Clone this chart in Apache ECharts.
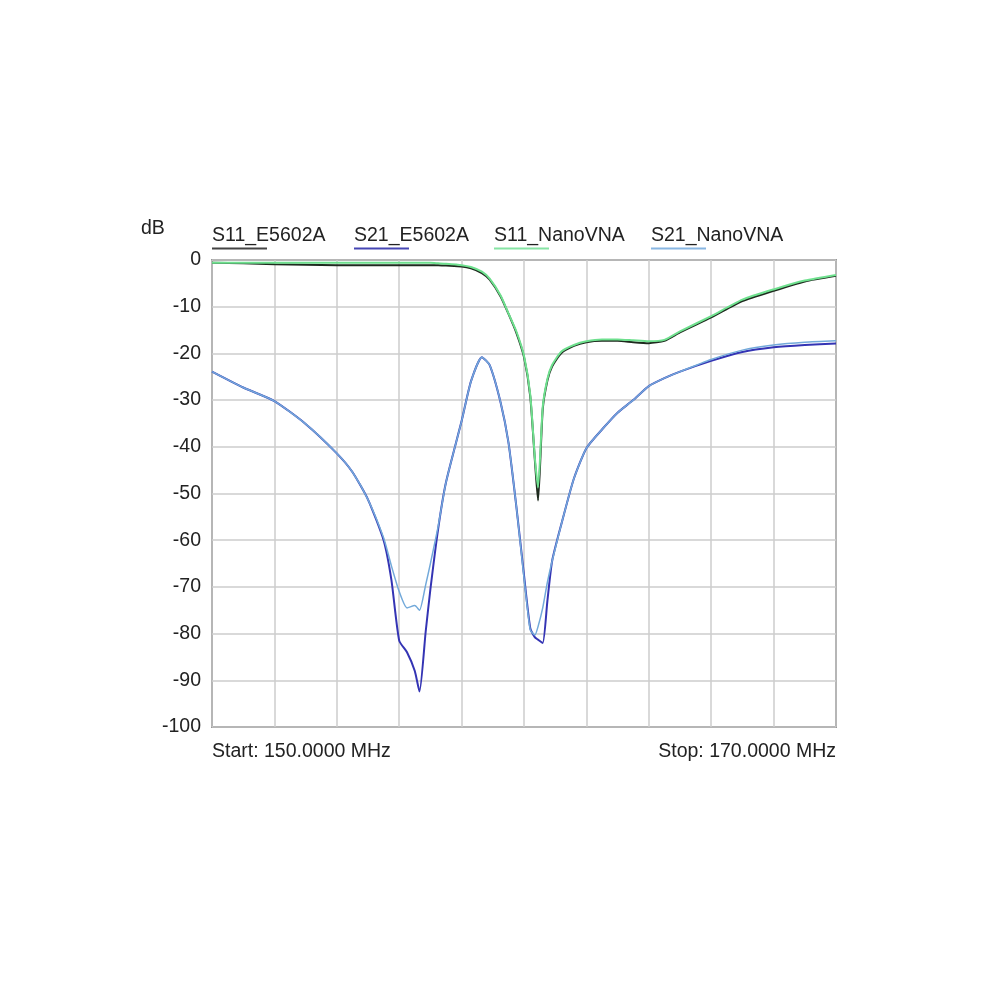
<!DOCTYPE html>
<html>
<head>
<meta charset="utf-8">
<script src="https://cdn.jsdelivr.net/npm/echarts@6/dist/echarts.min.js"></script>
<style>
  html, body { margin: 0; padding: 0; background: #fff; }
  #chart { width: 990px; height: 990px; }
</style>
</head>
<body>
<div id="chart"></div>
<script>
// frequency points, MHz
const freq = [150, 151, 152, 153, 154, 154.5, 155, 155.5, 155.75, 156, 156.25, 156.5, 156.65, 156.85,
  157, 157.25, 157.5, 158, 158.3, 158.65, 158.9, 159.25, 159.5, 159.75, 160, 160.2, 160.35, 160.45,
  160.6, 160.75, 160.9, 161.2, 161.6, 162, 162.5, 163, 163.5, 164, 164.5, 165, 166, 167, 168, 169, 170];

const s11E5602A = [-0.6, -0.7, -0.9, -1.0, -1.1, -1.1, -1.1, -1.1, -1.1, -1.1, -1.1, -1.1, -1.1, -1.1,
  -1.1, -1.1, -1.2, -1.4, -1.8, -2.8, -4.2, -7.8, -11.5, -15.5, -20.8, -29.2, -43.0, -51.5,
  -32.0, -25.8, -22.8, -19.9, -18.4, -17.6, -17.3, -17.3, -17.6, -17.8, -17.3, -15.5, -12.3, -8.8, -6.6, -4.6, -3.4];

const s21E5602A = [-23.9, -27.3, -30.2, -35.1, -41.4, -45.4, -51.3, -60.0, -68.5, -81.5, -84.0, -88.0, -92.4, -79.5,
  -70.5, -57.5, -47.6, -34.5, -26.0, -20.8, -22.5, -30.5, -39.0, -52.5, -67.5, -78.8, -80.8, -81.3,
  -82.0, -73.0, -64.5, -56.5, -46.8, -40.3, -36.3, -32.7, -30.0, -27.0, -25.3, -23.9, -21.6, -19.7, -18.7, -18.2, -17.9];

const s11NanoVNA = [-0.6, -0.6, -0.6, -0.6, -0.6, -0.6, -0.6, -0.6, -0.6, -0.6, -0.6, -0.6, -0.6, -0.6,
  -0.6, -0.7, -0.8, -1.1, -1.5, -2.5, -4.0, -7.6, -11.4, -15.2, -20.5, -28.8, -42.5, -48.7,
  -31.5, -25.5, -22.5, -19.6, -18.2, -17.4, -17.0, -17.0, -17.2, -17.4, -17.1, -15.3, -12.0, -8.5, -6.3, -4.4, -3.2];

const s21NanoVNA = [-23.9, -27.3, -30.2, -35.1, -41.4, -45.4, -51.3, -59.5, -65.5, -71.0, -74.5, -74.0, -75.0, -69.5,
  -65.0, -57.0, -47.6, -34.5, -26.0, -20.8, -22.5, -30.5, -39.0, -52.5, -68.0, -79.2, -80.3, -78.5,
  -74.5, -69.0, -64.5, -56.5, -46.8, -40.3, -36.3, -32.7, -30.0, -27.0, -25.3, -23.9, -21.3, -19.3, -18.2, -17.6, -17.3];

const legendNames = ['S11_E5602A', 'S21_E5602A', 'S11_NanoVNA', 'S21_NanoVNA'];
const legendX = [212, 354, 494, 651];
const lineColors = ['#1e2a1e', '#3434b4', '#6ee08e', '#72a9da'];
const underlineColors = ['#444444', '#4646b4', '#86e4a4', '#88b6e2'];

const font = '"Liberation Sans", Arial, sans-serif';
const fs = 19.5;

const pairs = (ys) => freq.map((f, i) => [f, ys[i]]);

const chart = echarts.init(document.getElementById('chart'));

const graphic = [
  { type: 'text', left: 141, top: 219, style: { text: 'dB', font: fs + 'px ' + font, fill: '#222' } },
  { type: 'text', left: 212, top: 742, style: { text: 'Start: 150.0000 MHz', font: fs + 'px ' + font, fill: '#222' } },
  { type: 'text', right: 154, top: 742, style: { text: 'Stop: 170.0000 MHz', font: fs + 'px ' + font, fill: '#222' } }
];
legendNames.forEach((name, i) => {
  graphic.push({ type: 'text', left: legendX[i], top: 226, style: { text: name, font: fs + 'px ' + font, fill: '#222' } });
  graphic.push({ type: 'line', shape: { x1: legendX[i], y1: 248.5, x2: legendX[i] + 55, y2: 248.5 },
    style: { stroke: underlineColors[i], lineWidth: 2 } });
});

function line(name, ys, color, width, z) {
  return {
    name: name, type: 'line', showSymbol: false, z: z,
    smooth: 0.2,
    lineStyle: { color: color, width: width },
    data: pairs(ys)
  };
}

chart.setOption({
  backgroundColor: '#ffffff',
  animation: false,
  grid: {
    left: 212,
    right: 154,
    top: 260,
    bottom: 263,
    show: true,
    borderColor: '#4a4a4a',
    borderWidth: 1.5
  },
  xAxis: {
    type: 'value',
    min: 150,
    max: 170,
    interval: 2,
    axisLine: { show: false },
    axisTick: { show: false },
    axisLabel: { show: false },
    splitLine: { lineStyle: { color: '#cccccc', width: 1.5 } }
  },
  yAxis: {
    type: 'value',
    min: -100,
    max: 0,
    interval: 10,
    axisLine: { show: false },
    axisTick: { show: false },
    axisLabel: { color: '#222', fontSize: fs, fontFamily: font, margin: 11 },
    splitLine: { lineStyle: { color: '#cccccc', width: 1.5 } }
  },
  graphic: graphic,
  series: [
    line('S11_E5602A', s11E5602A, lineColors[0], 2, 2),
    line('S21_E5602A', s21E5602A, lineColors[1], 2, 2),
    line('S11_NanoVNA', s11NanoVNA, lineColors[2], 2, 3),
    line('S21_NanoVNA', s21NanoVNA, lineColors[3], 1.5, 3)
  ]
});
</script>
</body>
</html>
